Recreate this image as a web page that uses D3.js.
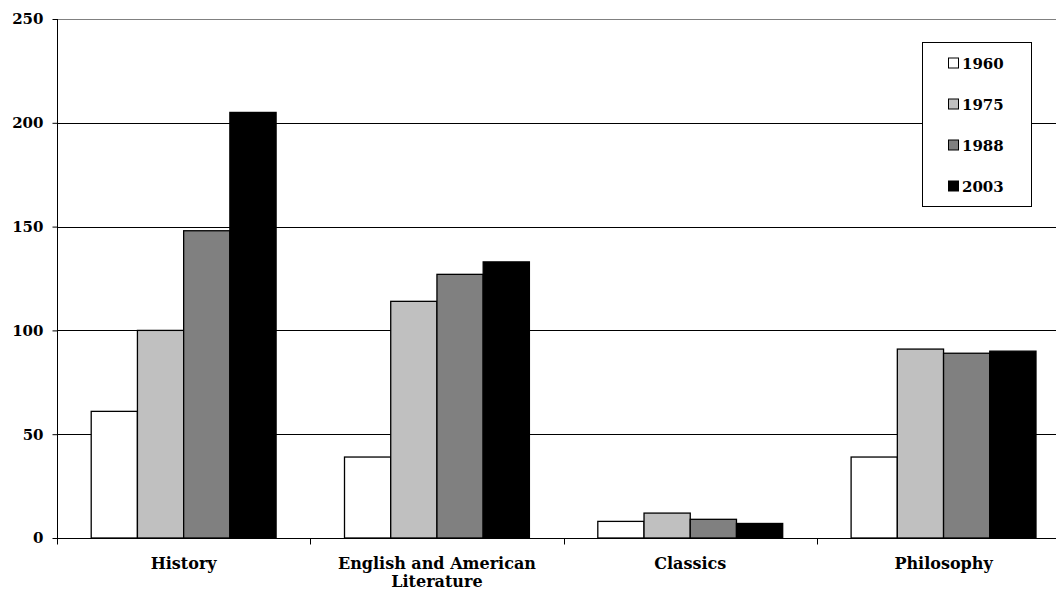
<!DOCTYPE html>
<html><head><meta charset="utf-8">
<script src="https://cdn.jsdelivr.net/npm/d3@7"></script>
<style>
html,body{margin:0;padding:0;background:#fff;}
svg{display:block;font-family:"DejaVu Serif",Georgia,serif;font-weight:bold;}
</style></head>
<body><svg id="c" width="1056" height="590"></svg>
<script>
const categories = [["History"], ["English and American", "Literature"], ["Classics"], ["Philosophy"]];
const seriesNames = ["1960", "1975", "1988", "2003"];
const values1960 = [61, 39, 8, 39];
const values1975 = [100, 114, 12, 91];
const values1988 = [148, 127, 9, 89];
const values2003 = [205, 133, 7, 90];
const yTicks = [0, 50, 100, 150, 200, 250];
const seriesColors = ["#ffffff", "#c0c0c0", "#808080", "#000000"];

const allValues = [values1960, values1975, values1988, values2003];
const svg = d3.select("#c");
const plotLeft = 57, plotTop = 19, plotBottom = 538, bandW = 253.3;
const catKeys = categories.map(c => c.join(" "));
const x0 = d3.scaleBand().domain(catKeys).range([plotLeft, plotLeft + bandW * 4]).padding(0);
const x1 = d3.scaleBand().domain(seriesNames).range([0, x0.bandwidth()]).paddingInner(0).paddingOuter(0.74);
const y = d3.scaleLinear().domain([0, 250]).range([plotBottom, plotTop]);

// gridlines
svg.append("g").selectAll("line").data(yTicks.filter(d => d > 0)).join("line")
  .attr("x1", plotLeft).attr("x2", 1056)
  .attr("y1", d => Math.round(y(d)) + 0.5).attr("y2", d => Math.round(y(d)) + 0.5)
  .attr("stroke", d => d === 250 ? "#808080" : "#000").attr("stroke-width", 1);

// bars
const g = svg.append("g");
catKeys.forEach((cat, ci) => {
  seriesNames.forEach((s, si) => {
    const v = allValues[si][ci];
    g.append("rect")
      .attr("x", x0(cat) + x1(s))
      .attr("y", y(v))
      .attr("width", x1.bandwidth())
      .attr("height", plotBottom - y(v))
      .attr("fill", seriesColors[si])
      .attr("stroke", "#000").attr("stroke-width", 1.3);
  });
});

// y axis
const yAxis = d3.axisLeft(y).tickValues(yTicks).tickSize(5).tickPadding(9).tickFormat(d3.format("d"));
const ya = svg.append("g").attr("transform", `translate(${plotLeft + 0.5},0)`).call(yAxis);
ya.select(".domain").attr("d", `M0,${plotTop}V${plotBottom}`).attr("stroke", "#000");
ya.selectAll(".tick line").attr("stroke", "#000");
ya.selectAll("text").attr("font-family", "DejaVu Serif").attr("font-weight", "bold").attr("font-size", 15).attr("fill", "#000");

// x axis
const xa = svg.append("g").attr("transform", `translate(0,${plotBottom + 0.5})`);
xa.append("line").attr("x1", plotLeft).attr("x2", 1056).attr("stroke", "#000");
xa.selectAll("line.tk").data(d3.range(0, 4)).join("line").attr("class", "tk")
  .attr("x1", i => Math.round(plotLeft + i * bandW) + 0.5).attr("x2", i => Math.round(plotLeft + i * bandW) + 0.5)
  .attr("y1", 0).attr("y2", 6).attr("stroke", "#000");
const labels = xa.selectAll("text").data(categories).join("text")
  .attr("text-anchor", "middle").attr("font-size", 16).attr("fill", "#000");
labels.each(function(c, i) {
  const t = d3.select(this);
  c.forEach((line, li) => {
    t.append("tspan").attr("x", x0(catKeys[i]) + x0.bandwidth() / 2).attr("y", 30 + li * 18).text(line);
  });
});

// legend
const lg = svg.append("g");
lg.append("rect").attr("x", 922.5).attr("y", 42.5).attr("width", 109).attr("height", 164)
  .attr("fill", "#fff").attr("stroke", "#000");
const ly = d3.scalePoint().domain(seriesNames).range([63.5, 186.5]);
seriesNames.forEach((s, i) => {
  lg.append("rect").attr("x", 948.5).attr("y", ly(s) - 5.5).attr("width", 10).attr("height", 10)
    .attr("fill", seriesColors[i]).attr("stroke", "#000");
  lg.append("text").attr("x", 962).attr("y", ly(s) + 5.5).attr("font-size", 15).attr("fill", "#000").text(s);
});
</script></body></html>
